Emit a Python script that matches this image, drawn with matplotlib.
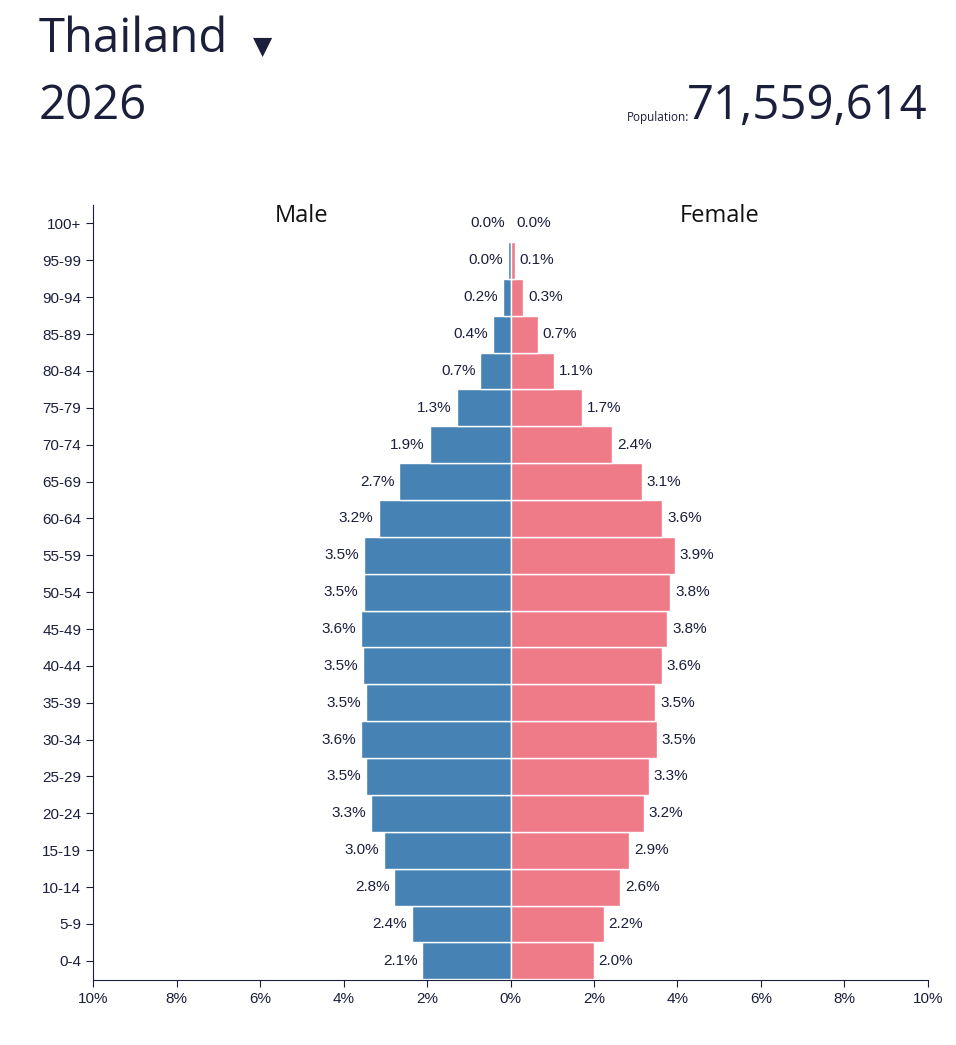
import matplotlib
matplotlib.use('Agg')
import matplotlib.pyplot as plt

ages = ['0-4', '5-9', '10-14', '15-19', '20-24', '25-29', '30-34', '35-39', '40-44', '45-49',
        '50-54', '55-59', '60-64', '65-69', '70-74', '75-79', '80-84', '85-89', '90-94', '95-99', '100+']
male = [2.11, 2.37, 2.78, 3.02, 3.33, 3.47, 3.57, 3.47, 3.54, 3.59,
        3.52, 3.50, 3.16, 2.66, 1.94, 1.29, 0.72, 0.41, 0.17, 0.05, 0.01]
female = [1.99, 2.23, 2.63, 2.85, 3.19, 3.31, 3.50, 3.47, 3.62, 3.76,
          3.83, 3.93, 3.64, 3.14, 2.44, 1.72, 1.05, 0.65, 0.31, 0.10, 0.02]
male_lbl = ['2.1%', '2.4%', '2.8%', '3.0%', '3.3%', '3.5%', '3.6%', '3.5%', '3.5%', '3.6%',
            '3.5%', '3.5%', '3.2%', '2.7%', '1.9%', '1.3%', '0.7%', '0.4%', '0.2%', '0.0%', '0.0%']
female_lbl = ['2.0%', '2.2%', '2.6%', '2.9%', '3.2%', '3.3%', '3.5%', '3.5%', '3.6%', '3.8%',
              '3.8%', '3.9%', '3.6%', '3.1%', '2.4%', '1.7%', '1.1%', '0.7%', '0.3%', '0.1%', '0.0%']
xticks = [-10, -8, -6, -4, -2, 0, 2, 4, 6, 8, 10]

navy = '#1b1f3b'
plt.rcParams['font.family'] = ['Open Sans', 'DejaVu Sans']

fig = plt.figure(figsize=(9.56, 10.45), dpi=100)
ax = fig.add_axes([0.0973, 0.0622, 0.8734, 0.7416])
y = list(range(len(ages)))
ax.barh(y, [-m for m in male], height=1.0, color='#4682b4', edgecolor='white', linewidth=1)
ax.barh(y, female, height=1.0, color='#ef7b89', edgecolor='white', linewidth=1)
for i in y:
    ax.text(-male[i] - 0.12, i, male_lbl[i], ha='right', va='center', fontsize=11,
            color=navy, family='Liberation Sans')
    ax.text(female[i] + 0.12, i, female_lbl[i], ha='left', va='center', fontsize=11,
            color=navy, family='Liberation Sans')

ax.set_xlim(-10, 10)
ax.set_ylim(-0.52, 20.5)
ax.set_yticks(y)
ax.set_yticklabels(ages, fontsize=11, color=navy, family='Liberation Sans')
ax.set_xticks(xticks)
ax.set_xticklabels([f'{abs(t)}%' for t in xticks], fontsize=11, color=navy, family='Liberation Sans')
ax.tick_params(length=5, color=navy)
for s in ['top', 'right']:
    ax.spines[s].set_visible(False)
for s in ['left', 'bottom']:
    ax.spines[s].set_color(navy)
ax.text(-5, 20.2, 'Male', ha='center', va='center', fontsize=17, color='#111111')
ax.text(5, 20.2, 'Female', ha='center', va='center', fontsize=17, color='#111111')

fig.text(0.040, 0.962, 'Thailand', fontsize=34, color=navy, va='center')
fig.text(0.265, 0.955, '\u25bc', fontsize=18, color=navy, va='center', family='DejaVu Sans')
fig.text(0.040, 0.898, '2026', fontsize=34, color=navy, va='center')
fig.text(0.970, 0.898, '71,559,614', fontsize=34, color=navy, va='center', ha='right')
fig.text(0.721, 0.888, 'Population:', fontsize=8.5, color=navy, va='center', ha='right')

fig.savefig('out.png', dpi=100)
